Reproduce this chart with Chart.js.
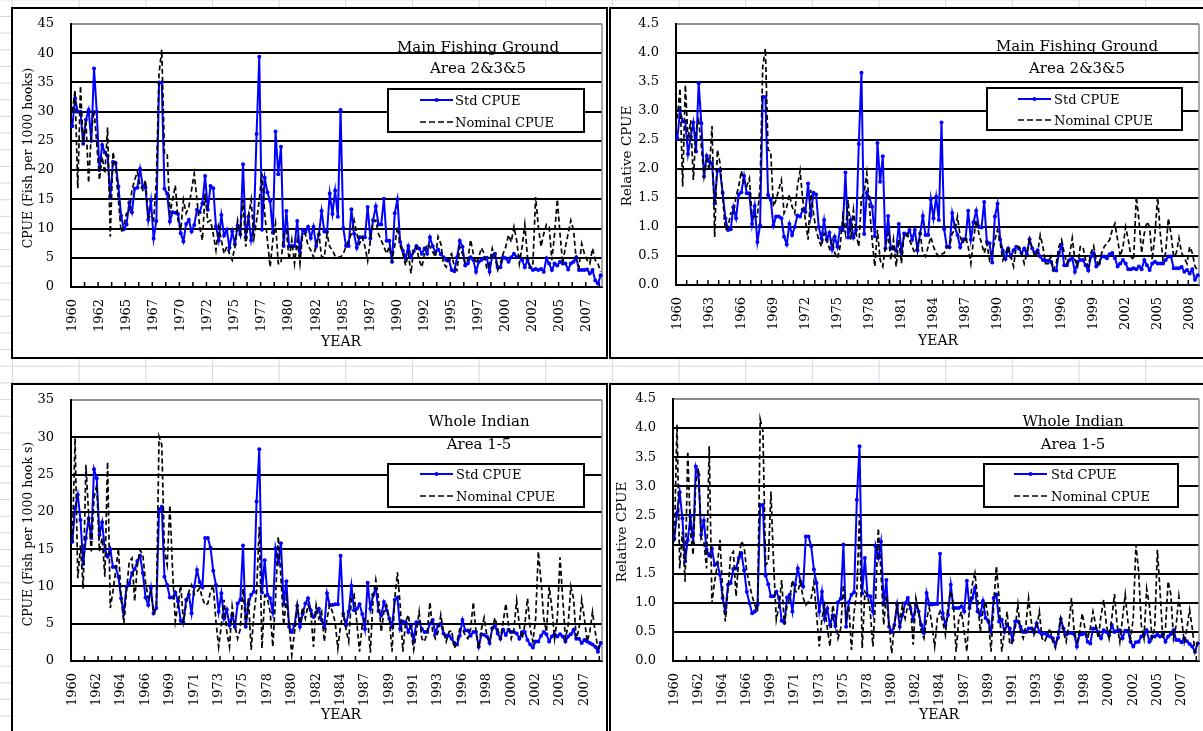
<!DOCTYPE html>
<html>
<head>
<meta charset="utf-8">
<script src="https://cdn.jsdelivr.net/npm/chart.js@4"></script>
<style>
  body {
    margin: 0; width: 1203px; height: 731px; overflow: hidden; position: relative;
    background-color: #fff;
    background-image: linear-gradient(to right, #d0d7e5 1px, transparent 1px),
                      linear-gradient(to bottom, #d0d7e5 1px, transparent 1px);
    background-size: 66.67px 16.67px;
    background-position: 12px 16px;
    font-family: 'DejaVu Serif', serif;
  }
  .panel { position: absolute; background: #fff; border: 2px solid #000; box-sizing: border-box; }
  .panel canvas { position: absolute; left: 0; top: 0; }
  .txt { position: absolute; white-space: nowrap; line-height: 1; color: #000; transform: translate(-50%, -50%); }
  .ytitle { position: absolute; white-space: nowrap; line-height: 1; font-size: 12.5px; transform: translate(-50%, -50%) rotate(-90deg); }
  .legend { position: absolute; background: #fff; border: 2px solid #000; box-sizing: border-box; }
  .ltext { position: absolute; white-space: nowrap; line-height: 1; font-size: 13px; transform: translateY(-50%); }
  .lsample { position: absolute; transform: translateY(-50%); line-height: 0; }
  .lsample svg { display: block; }
</style>
</head>
<body>

<div class="panel" style="left:11px;top:7px;width:597px;height:352px;"><canvas id="mainCpue" width="593" height="348"></canvas></div>
<div class="panel" style="left:609px;top:7px;width:600px;height:352px;"><canvas id="mainRel" width="592" height="348"></canvas></div>
<div class="panel" style="left:11px;top:383px;width:597px;height:360px;"><canvas id="wholeCpue" width="593" height="346"></canvas></div>
<div class="panel" style="left:609px;top:383px;width:600px;height:360px;"><canvas id="wholeRel" width="592" height="346"></canvas></div>

<script>
const firstYear = 1960;
const lastYear = 2008;

// tick labels shown along each x axis
const ticksMainCpue = ['1960','1962','1965','1967','1970','1972','1975','1977','1980','1982',
    '1985','1987','1990','1992','1995','1997','2000','2002','2005','2007'];
const ticksMainRel = ['1960','1963','1966','1969','1972','1975','1978','1981','1984','1987',
    '1990','1993','1996','1999','2002','2005','2008'];
const ticksWhole = ['1960','1962','1964','1966','1969','1971','1973','1975','1978','1980','1982',
    '1984','1987','1989','1991','1993','1996','1998','2000','2002','2005','2007'];

// Main fishing ground, Area 2&3&5 : CPUE (fish per 1000 hooks), quarterly 1960-2008
const stdMainCpue = [
    27.5, 32.3, 30.0, 30.0, 24.5, 28.6, 30.3, 25.0, 37.4, 30.0, 20.0, 24.3, 23.0, 22.5, 15.2, 21.4,
    21.2, 17.2, 12.2, 9.9, 10.7, 14.4, 12.8, 16.8, 17.0, 20.2, 17.2, 17.0, 11.5, 14.8, 8.3, 11.3,
    35.0, 35.0, 16.8, 16.0, 11.2, 12.8, 12.7, 12.5, 9.2, 7.8, 10.8, 11.5, 9.5, 10.6, 13.2, 12.8,
    14.3, 19.0, 13.2, 17.3, 16.9, 10.4, 8.0, 12.3, 8.8, 9.8, 6.7, 9.5, 7.3, 10.5, 9.0, 21.0,
    8.5, 12.0, 8.0, 10.5, 26.2, 39.4, 9.8, 18.7, 16.2, 14.7, 9.3, 26.6, 19.3, 24.0, 7.0, 13.0,
    7.0, 7.0, 7.0, 11.3, 6.0, 9.8, 9.4, 10.3, 8.4, 10.3, 7.0, 9.0, 13.0, 9.5, 9.4, 16.0,
    12.5, 16.5, 12.0, 30.3, 10.1, 7.0, 7.0, 13.3, 9.1, 6.7, 8.5, 8.5, 8.5, 13.7, 8.3, 11.4,
    13.8, 10.7, 10.7, 15.1, 7.9, 7.9, 4.3, 12.6, 15.0, 7.7, 6.2, 4.9, 7.0, 5.1, 6.1, 7.0,
    6.6, 5.7, 6.6, 5.7, 8.5, 7.0, 6.0, 6.4, 5.6, 5.1, 4.6, 4.6, 2.9, 2.7, 5.1, 7.9,
    6.9, 3.7, 4.0, 5.1, 4.6, 2.6, 4.3, 4.6, 4.9, 5.0, 2.6, 5.4, 5.7, 3.4, 3.4, 5.1,
    4.9, 4.3, 5.1, 5.7, 5.1, 5.1, 4.6, 3.4, 4.6, 3.4, 2.9, 3.1, 2.9, 3.1, 2.6, 4.9,
    4.0, 2.9, 4.0, 3.7, 4.3, 4.0, 4.0, 3.0, 4.0, 4.3, 5.1, 2.9, 2.9, 2.9, 3.0, 2.3,
    2.9, 1.1, 0.6, 2.0
];
const nomMainCpue = [
    30.0, 33.7, 16.9, 34.4, 24.6, 28.6, 17.8, 26.3, 30.3, 24.6, 18.3, 22.3, 19.4, 27.3, 8.6, 23.1,
    20.6, 14.9, 9.4, 10.3, 12.6, 12.6, 16.6, 18.3, 19.7, 17.4, 16.6, 18.3, 12.0, 12.0, 11.4, 18.3,
    36.6, 40.6, 22.9, 22.9, 12.6, 14.9, 17.4, 11.4, 9.7, 14.9, 12.6, 13.7, 16.6, 19.4, 14.9, 10.3,
    8.0, 16.0, 11.1, 11.4, 9.1, 6.3, 10.3, 8.0, 5.7, 6.9, 5.7, 4.6, 6.9, 11.4, 9.1, 14.9,
    6.9, 12.0, 14.9, 8.3, 11.4, 14.9, 19.4, 12.6, 8.0, 3.4, 8.0, 10.9, 4.0, 4.0, 9.1, 9.7,
    4.6, 8.0, 4.0, 8.0, 4.0, 9.1, 9.1, 7.1, 6.3, 5.1, 7.4, 9.1, 5.1, 5.1, 9.1, 6.9,
    6.3, 5.3, 5.1, 5.1, 5.7, 6.9, 8.0, 9.1, 11.4, 9.1, 7.4, 8.5, 6.9, 4.5, 8.0, 11.1,
    11.4, 9.1, 8.0, 6.9, 5.7, 6.9, 4.6, 7.1, 10.3, 7.1, 5.7, 3.7, 5.7, 2.3, 6.6, 6.9,
    4.6, 3.4, 5.7, 7.4, 6.9, 6.0, 5.1, 8.6, 7.4, 4.0, 3.4, 5.1, 5.7, 3.4, 2.9, 6.9,
    5.7, 4.0, 4.6, 8.1, 5.7, 4.0, 5.1, 6.7, 5.7, 3.1, 4.0, 6.6, 5.1, 2.9, 4.0, 5.7,
    6.9, 8.9, 7.7, 10.3, 8.0, 4.0, 6.9, 10.7, 5.1, 3.4, 4.0, 15.4, 10.3, 6.9, 9.1, 10.7,
    10.3, 4.6, 9.1, 15.0, 9.1, 4.0, 6.9, 9.1, 11.4, 9.7, 4.6, 3.4, 7.4, 5.7, 4.6, 4.0,
    6.6, 4.6, 4.0, 2.6
];

// Main fishing ground, relative CPUE
const stdMainRel = [
    2.53, 3.0, 2.82, 2.82, 2.26, 2.56, 2.8, 2.3, 3.48, 2.79, 1.87, 2.23, 2.13, 2.1, 1.41, 1.98,
    1.97, 1.59, 1.15, 0.95, 0.96, 1.34, 1.15, 1.56, 1.6, 1.88, 1.58, 1.58, 1.05, 1.36, 0.74, 1.03,
    3.24, 3.24, 1.55, 1.47, 1.02, 1.18, 1.18, 1.15, 0.83, 0.7, 1.05, 0.86, 1.0, 1.2, 1.18, 1.3,
    1.26, 1.75, 1.2, 1.59, 1.56, 1.0, 0.8, 1.12, 0.78, 0.9, 0.61, 0.83, 0.66, 0.98, 0.95, 1.94,
    0.82, 1.12, 0.82, 0.95, 2.43, 3.66, 0.88, 1.59, 1.5, 1.35, 0.84, 2.45, 1.78, 2.22, 0.63, 1.19,
    0.63, 0.63, 0.59, 1.05, 0.55, 0.89, 0.86, 0.95, 0.78, 0.95, 0.6, 0.89, 1.19, 0.86, 0.86, 1.48,
    1.15, 1.52, 1.12, 2.8, 0.96, 0.66, 0.65, 1.24, 1.0, 0.86, 0.65, 0.79, 0.79, 1.28, 0.78, 1.08,
    1.28, 1.0, 0.99, 1.43, 0.74, 0.72, 0.39, 1.18, 1.4, 0.78, 0.59, 0.45, 0.63, 0.49, 0.6, 0.66,
    0.63, 0.55, 0.63, 0.53, 0.79, 0.63, 0.55, 0.6, 0.49, 0.43, 0.42, 0.42, 0.4, 0.26, 0.25, 0.55,
    0.69, 0.34, 0.34, 0.43, 0.46, 0.23, 0.4, 0.43, 0.43, 0.34, 0.25, 0.49, 0.55, 0.32, 0.37, 0.49,
    0.49, 0.46, 0.53, 0.55, 0.46, 0.32, 0.37, 0.43, 0.37, 0.27, 0.27, 0.29, 0.27, 0.32, 0.27, 0.43,
    0.34, 0.26, 0.37, 0.4, 0.37, 0.37, 0.37, 0.43, 0.49, 0.49, 0.29, 0.29, 0.29, 0.31, 0.23, 0.26,
    0.2, 0.27, 0.09, 0.17
];
const nomMainRel = [
    2.87, 3.39, 1.7, 3.45, 2.5, 2.84, 1.81, 2.67, 2.84, 2.39, 1.87, 2.16, 1.98, 2.74, 0.83, 2.33,
    2.1, 1.52, 0.95, 1.0, 1.24, 1.24, 1.52, 1.7, 1.97, 1.75, 1.7, 1.84, 1.18, 1.18, 1.18, 1.7,
    3.76, 4.08, 2.33, 2.3, 1.35, 1.47, 1.64, 1.81, 1.24, 1.35, 1.56, 1.35, 1.24, 1.7, 1.97, 1.47,
    1.12, 0.78, 1.64, 1.24, 0.95, 0.78, 0.66, 0.89, 0.78, 0.63, 0.78, 0.55, 0.46, 0.66, 1.18, 0.89,
    1.47, 0.78, 1.29, 0.89, 0.66, 1.5, 1.59, 1.93, 1.35, 0.78, 0.32, 0.95, 0.43, 0.32, 0.66, 0.89,
    0.43, 0.78, 0.32, 0.78, 0.37, 0.89, 0.89, 0.78, 0.66, 0.55, 0.66, 0.89, 0.55, 0.49, 0.66, 0.83,
    0.66, 0.55, 0.49, 0.53, 0.55, 0.66, 0.66, 0.89, 0.95, 1.18, 0.83, 0.72, 0.83, 0.66, 0.37, 0.78,
    1.12, 0.89, 0.72, 0.55, 0.72, 0.43, 0.55, 0.78, 0.95, 0.72, 0.43, 0.55, 0.66, 0.49, 0.32, 0.66,
    0.66, 0.55, 0.37, 0.55, 0.78, 0.63, 0.49, 0.55, 0.86, 0.66, 0.37, 0.37, 0.49, 0.26, 0.37, 0.66,
    0.78, 0.55, 0.37, 0.52, 0.81, 0.43, 0.32, 0.66, 0.66, 0.43, 0.32, 0.55, 0.67, 0.43, 0.32, 0.55,
    0.66, 0.72, 0.78, 0.95, 1.06, 0.78, 0.49, 0.66, 1.0, 0.78, 0.49, 0.43, 1.53, 1.12, 0.55, 0.89,
    1.09, 1.0, 0.43, 0.89, 1.52, 0.89, 0.43, 0.55, 1.15, 0.89, 0.49, 0.55, 0.81, 0.55, 0.46, 0.37,
    0.66, 0.55, 0.32, 0.26
];

// Whole Indian, Area 1-5 : CPUE (fish per 1000 hooks)
const stdWholeCpue = [
    16.0, 20.5, 22.3, 18.9, 13.0, 16.5, 19.1, 16.5, 25.7, 24.5, 16.9, 18.6, 14.9, 14.0, 15.0, 12.6,
    12.6, 11.3, 8.4, 6.5, 10.0, 10.4, 11.8, 12.3, 13.4, 14.1, 11.8, 8.5, 7.5, 9.8, 6.4, 7.1,
    20.3, 20.7, 11.3, 10.2, 8.5, 8.5, 9.2, 8.0, 5.4, 5.1, 8.2, 8.9, 6.4, 10.0, 12.2, 10.6,
    9.9, 16.5, 16.5, 15.2, 12.1, 10.2, 6.6, 9.1, 5.7, 6.9, 4.8, 6.2, 4.6, 7.7, 8.2, 15.5,
    4.6, 7.6, 8.9, 9.3, 21.4, 28.4, 9.2, 13.5, 8.9, 8.4, 6.5, 15.1, 13.3, 15.8, 7.6, 10.7,
    4.6, 3.9, 4.8, 7.4, 4.6, 6.3, 7.7, 8.4, 6.8, 5.9, 6.5, 7.0, 5.5, 4.6, 9.1, 7.5,
    7.5, 7.6, 7.6, 14.1, 6.3, 4.8, 6.6, 10.1, 6.8, 7.0, 7.6, 6.3, 4.3, 10.5, 7.0, 8.9,
    9.7, 6.7, 6.1, 7.9, 6.8, 5.7, 4.6, 8.2, 8.5, 4.3, 5.3, 5.2, 3.9, 4.8, 2.8, 5.2,
    5.2, 4.3, 3.9, 3.9, 5.0, 5.5, 3.7, 4.8, 5.0, 3.7, 3.4, 3.4, 3.0, 2.4, 2.2, 3.4,
    5.5, 4.1, 4.1, 3.4, 3.9, 3.9, 1.9, 3.6, 3.5, 3.3, 2.4, 4.4, 4.7, 3.7, 3.0, 4.2,
    3.5, 4.2, 3.9, 3.9, 3.7, 3.0, 3.9, 3.9, 2.8, 2.2, 1.8, 2.6, 2.6, 3.4, 3.9, 3.6,
    2.6, 3.3, 3.6, 3.3, 3.6, 3.3, 2.6, 3.3, 3.6, 4.2, 3.0, 3.0, 2.4, 2.8, 2.6, 2.4,
    2.2, 1.9, 1.25, 2.4
];
const nomWholeCpue = [
    16.0, 29.9, 11.1, 15.5, 9.7, 26.3, 19.7, 14.7, 21.9, 23.6, 14.7, 16.5, 11.3, 26.7, 7.1, 9.4,
    12.1, 15.1, 8.4, 5.1, 9.4, 13.3, 13.8, 8.0, 12.9, 14.9, 14.3, 10.6, 8.4, 9.3, 6.4, 7.1,
    30.1, 29.0, 14.7, 12.9, 20.9, 12.1, 5.3, 7.6, 10.2, 5.3, 7.6, 9.3, 10.2, 8.9, 9.3, 9.8,
    8.4, 7.5, 7.7, 9.3, 10.2, 5.3, 1.9, 4.8, 8.2, 3.9, 1.9, 7.3, 4.8, 3.0, 4.3, 9.7,
    4.8, 8.4, 1.5, 6.2, 9.3, 18.0, 1.7, 8.8, 8.4, 6.6, 1.9, 8.4, 16.7, 11.1, 4.8, 8.4,
    4.8, 0.8, 3.9, 7.4, 5.0, 7.2, 5.7, 7.5, 6.6, 1.9, 7.5, 5.7, 6.6, 2.6, 5.7, 7.5,
    6.6, 5.2, 1.7, 4.8, 6.4, 4.3, 2.6, 8.4, 8.9, 5.2, 1.25, 4.8, 5.7, 5.7, 1.1, 8.4,
    10.9, 8.4, 3.9, 6.6, 7.5, 5.7, 1.25, 8.4, 11.9, 7.5, 1.25, 5.2, 6.2, 3.9, 1.5, 3.9,
    6.6, 3.0, 2.6, 3.9, 7.9, 3.9, 3.0, 3.9, 6.2, 3.9, 2.6, 3.9, 4.1, 1.7, 2.6, 4.3,
    4.3, 3.4, 3.0, 4.3, 7.9, 3.9, 1.7, 4.3, 5.8, 3.4, 2.6, 4.3, 5.8, 4.3, 3.0, 5.2,
    7.7, 4.8, 3.0, 4.3, 8.1, 4.8, 3.0, 4.8, 8.4, 4.3, 2.6, 5.7, 14.7, 10.7, 5.7, 3.9,
    10.0, 7.1, 3.0, 5.7, 13.9, 8.4, 3.0, 4.8, 10.0, 8.4, 3.0, 4.3, 8.2, 5.7, 2.6, 3.9,
    6.6, 3.9, 1.7, 2.6
];

// Whole Indian, relative CPUE
const stdWholeRel = [
    2.1, 2.54, 2.9, 2.45, 1.71, 2.08, 2.48, 2.02, 3.34, 3.2, 2.17, 2.41, 1.91, 1.81, 1.93, 1.65,
    1.68, 1.48, 1.08, 0.84, 1.31, 1.34, 1.58, 1.59, 1.77, 1.85, 1.56, 1.19, 0.99, 0.82, 0.85, 0.96,
    2.68, 2.68, 1.47, 1.32, 1.11, 1.11, 1.19, 1.08, 0.69, 0.66, 1.09, 1.14, 0.85, 1.31, 1.59, 1.36,
    1.28, 2.14, 2.14, 1.97, 1.57, 1.34, 0.85, 1.19, 0.72, 0.9, 0.62, 0.78, 0.6, 1.01, 1.07, 2.0,
    0.59, 1.01, 1.14, 1.18, 2.77, 3.69, 1.16, 1.77, 1.12, 1.11, 0.85, 1.97, 1.77, 2.05, 0.97, 1.39,
    0.59, 0.5, 0.62, 0.96, 0.59, 0.79, 0.99, 1.08, 0.9, 0.71, 0.97, 0.85, 0.62, 0.48, 1.17, 0.97,
    0.97, 0.98, 0.98, 1.84, 0.82, 0.62, 0.79, 1.31, 0.91, 0.91, 0.91, 0.94, 0.85, 1.38, 0.91, 1.08,
    1.26, 0.85, 0.79, 1.03, 0.74, 0.68, 0.5, 1.08, 1.14, 0.68, 0.71, 0.5, 0.62, 0.56, 0.36, 0.68,
    0.68, 0.59, 0.5, 0.5, 0.56, 0.56, 0.5, 0.65, 0.5, 0.46, 0.48, 0.44, 0.42, 0.39, 0.29, 0.4,
    0.72, 0.56, 0.45, 0.48, 0.48, 0.46, 0.25, 0.45, 0.46, 0.48, 0.33, 0.3, 0.56, 0.56, 0.5, 0.39,
    0.53, 0.5, 0.44, 0.62, 0.5, 0.52, 0.53, 0.39, 0.52, 0.52, 0.33, 0.25, 0.32, 0.33, 0.42, 0.45,
    0.53, 0.33, 0.42, 0.42, 0.45, 0.42, 0.46, 0.33, 0.42, 0.46, 0.53, 0.36, 0.36, 0.32, 0.39, 0.34,
    0.29, 0.25, 0.16, 0.3
];
const nomWholeRel = [
    2.05, 4.06, 1.59, 2.22, 1.36, 3.6, 2.22, 1.82, 3.08, 3.31, 2.11, 2.05, 1.59, 3.69, 0.99, 1.36,
    1.65, 2.08, 1.19, 0.68, 1.24, 1.82, 1.88, 1.11, 1.76, 2.06, 1.97, 1.53, 1.31, 1.11, 0.96, 0.85,
    4.15, 3.95, 1.65, 1.7, 2.91, 1.65, 0.71, 0.96, 1.39, 0.62, 0.96, 1.08, 1.39, 1.19, 1.19, 1.36,
    1.08, 0.96, 1.02, 1.08, 1.36, 0.79, 0.25, 0.73, 0.96, 0.56, 0.25, 0.96, 0.73, 0.39, 0.56, 1.31,
    0.73, 0.96, 0.19, 0.85, 1.19, 2.51, 0.22, 1.19, 1.13, 0.85, 0.25, 1.08, 2.28, 1.53, 0.62, 1.13,
    0.62, 0.13, 0.62, 0.96, 0.65, 0.96, 0.73, 0.96, 0.96, 0.28, 1.08, 0.85, 0.51, 0.39, 0.73, 0.91,
    0.62, 0.25, 0.73, 0.85, 0.68, 0.45, 0.96, 1.2, 0.96, 0.16, 0.73, 0.85, 0.5, 0.16, 0.96, 1.31,
    1.51, 1.08, 0.5, 0.85, 1.02, 0.73, 0.16, 0.96, 1.63, 1.08, 0.16, 0.5, 0.85, 0.28, 0.33, 0.56,
    0.97, 0.5, 0.39, 0.62, 1.08, 0.68, 0.45, 0.56, 0.85, 0.39, 0.33, 0.45, 0.56, 0.33, 0.22, 0.5,
    0.73, 0.5, 0.33, 0.62, 1.08, 0.5, 0.33, 0.5, 0.82, 0.56, 0.39, 0.56, 0.85, 0.62, 0.39, 0.79,
    1.05, 0.62, 0.39, 0.73, 1.15, 0.62, 0.33, 0.73, 1.14, 0.68, 0.39, 0.73, 2.0, 1.54, 0.62, 0.39,
    1.24, 0.96, 0.39, 0.56, 1.91, 1.19, 0.39, 0.56, 1.37, 1.14, 0.39, 0.62, 1.11, 0.73, 0.33, 0.56,
    0.88, 0.56, 0.16, 0.33
];

// quarterly categories
const quarters = [];
for (let y = firstYear; y <= lastYear; y++) {
    for (let q = 1; q <= 4; q++) quarters.push(y + ' Q' + q);
}

const serif = 'DejaVu Serif';

// small inside tick marks on the x axis + grey right edge of the plot area
const axisMarks = {
    id: 'axisMarks',
    beforeDatasetsDraw(chart, args, opts) {
        const { ctx, chartArea: a, scales: { x } } = chart;
        ctx.save();
        ctx.strokeStyle = '#8c8c8c';
        ctx.lineWidth = 1.5;
        ctx.beginPath();
        ctx.moveTo(a.right, a.top);
        ctx.lineTo(a.right, a.bottom);
        ctx.stroke();
        ctx.strokeStyle = '#000';
        ctx.lineWidth = 1.5;
        ctx.beginPath();
        for (let k = opts.every; k < quarters.length; k += opts.every) {
            const px = (x.getPixelForValue(k - 1) + x.getPixelForValue(k)) / 2;
            ctx.moveTo(px, a.bottom);
            ctx.lineTo(px, a.bottom - 5);
        }
        ctx.stroke();
        ctx.restore();
    }
};

function drawPanel(id, std, nom, o) {
    const ctx = document.getElementById(id).getContext('2d');
    return new Chart(ctx, {
        type: 'line',
        data: {
            labels: quarters,
            datasets: [{
                label: 'Std CPUE',
                data: std,
                borderColor: '#0000ff',
                backgroundColor: '#0000ff',
                borderWidth: 2,
                pointRadius: 2,
                pointBorderWidth: 0,
                pointBackgroundColor: '#0000ff',
                tension: 0,
                order: 1
            }, {
                label: 'Nominal CPUE',
                data: nom,
                borderColor: '#000',
                borderWidth: 1.7,
                borderDash: [5, 3],
                pointRadius: 0,
                tension: 0,
                order: 0
            }]
        },
        options: {
            responsive: false,
            animation: false,
            events: [],
            layout: { padding: { left: 0, top: o.top, right: o.right, bottom: 0 } },
            plugins: {
                legend: { display: false },
                tooltip: { enabled: false },
                axisMarks: { every: o.markEvery }
            },
            scales: {
                x: {
                    type: 'category',
                    offset: true,
                    grid: { display: false, drawTicks: false },
                    border: { display: true, color: '#000', width: 2 },
                    ticks: {
                        autoSkip: false,
                        minRotation: 90,
                        maxRotation: 90,
                        padding: 12,
                        color: '#000',
                        font: { family: serif, size: 13 },
                        callback: (v, i) => i % o.labelEvery === 0 ? o.tickLabels[i / o.labelEvery] : null
                    },
                    afterFit: s => {
                        s.height = o.xHeight;
                        s.paddingLeft = 0;
                        s.paddingRight = 0;
                    }
                },
                y: {
                    min: 0,
                    max: o.yMax,
                    grid: {
                        color: c => (c.tick && c.tick.value === o.yMax) ? '#8c8c8c' : '#000',
                        lineWidth: 2,
                        drawTicks: false
                    },
                    border: { display: true, color: '#000', width: 2 },
                    ticks: {
                        stepSize: o.yStep,
                        padding: 17,
                        color: '#000',
                        font: { family: serif, size: 13 },
                        callback: v => v.toFixed(o.decimals)
                    },
                    afterFit: s => {
                        s.width = o.yWidth;
                        s.paddingTop = 0;
                        s.paddingBottom = 0;
                    }
                }
            }
        },
        plugins: [axisMarks]
    });
}

drawPanel('mainCpue', stdMainCpue, nomMainCpue, {
    yMax: 45, yStep: 5, decimals: 0, tickLabels: ticksMainCpue, labelEvery: 10, markEvery: 5,
    yWidth: 58, xHeight: 70, top: 15, right: 2
});
drawPanel('mainRel', stdMainRel, nomMainRel, {
    yMax: 4.5, yStep: 0.5, decimals: 1, tickLabels: ticksMainRel, labelEvery: 12, markEvery: 4,
    yWidth: 65, xHeight: 72, top: 15, right: 3
});
drawPanel('wholeCpue', stdWholeCpue, nomWholeCpue, {
    yMax: 35, yStep: 5, decimals: 0, tickLabels: ticksWhole, labelEvery: 9, markEvery: 5,
    yWidth: 58, xHeight: 70, top: 15, right: 2
});
drawPanel('wholeRel', stdWholeRel, nomWholeRel, {
    yMax: 4.5, yStep: 0.5, decimals: 1, tickLabels: ticksWhole, labelEvery: 9, markEvery: 5,
    yWidth: 62, xHeight: 70, top: 14, right: 4
});

// text overlays: titles, axis titles, legends
function addText(cls, text, x, y, size) {
    const d = document.createElement('div');
    d.className = cls;
    d.textContent = text;
    d.style.left = x + 'px';
    d.style.top = y + 'px';
    if (size) d.style.fontSize = size + 'px';
    document.body.appendChild(d);
}

function addLegend(left, top, width, height, sampleX, textX, row1, row2) {
    const box = document.createElement('div');
    box.className = 'legend';
    box.style.cssText = `left:${left}px;top:${top}px;width:${width}px;height:${height}px;`;
    document.body.appendChild(box);
    const rows = [
        { y: row1, text: 'Std CPUE',
          svg: '<svg width="33" height="6"><line x1="0" y1="3" x2="33" y2="3" stroke="#0000ff" stroke-width="2"/><circle cx="16.5" cy="3" r="2" fill="#0000ff"/></svg>' },
        { y: row2, text: 'Nominal CPUE',
          svg: '<svg width="33" height="6"><line x1="0" y1="3" x2="33" y2="3" stroke="#000" stroke-width="1.7" stroke-dasharray="6,3"/></svg>' }
    ];
    rows.forEach(r => {
        const s = document.createElement('div');
        s.className = 'lsample';
        s.style.cssText = `left:${sampleX}px;top:${r.y}px;`;
        s.innerHTML = r.svg;
        document.body.appendChild(s);
        const t = document.createElement('div');
        t.className = 'ltext';
        t.textContent = r.text;
        t.style.left = textX + 'px';
        t.style.top = r.y + 'px';
        document.body.appendChild(t);
    });
}

addText('txt', 'Main Fishing Ground', 478, 47, 15);
addText('txt', 'Area 2&3&5', 478, 68, 15);
addText('txt', 'Main Fishing Ground', 1077, 46, 15);
addText('txt', 'Area 2&3&5', 1077, 68, 15);
addText('txt', 'Whole Indian', 479, 421, 15);
addText('txt', 'Area 1-5', 479, 444, 15);
addText('txt', 'Whole Indian', 1073, 421, 15);
addText('txt', 'Area 1-5', 1073, 444, 15);

addText('ytitle', 'CPUE (Fish per 1000 hooks)', 28, 158);
addText('ytitle', 'Relative CPUE', 627, 156, 13.5);
addText('ytitle', 'CPUE (Fish per 1000 hook s)', 28, 534);
addText('ytitle', 'Relative CPUE', 622, 532, 13.5);

addText('txt', 'YEAR', 341, 341, 14);
addText('txt', 'YEAR', 938, 340, 14);
addText('txt', 'YEAR', 341, 714, 14);
addText('txt', 'YEAR', 939, 714, 14);

addLegend(387, 88, 198, 45, 420, 455, 100, 122);
addLegend(986, 87, 197, 44, 1018, 1054, 98.5, 119.5);
addLegend(387, 463, 198, 45, 420, 456, 474, 496);
addLegend(983, 463, 196, 45, 1014, 1051, 474, 496);
</script>
</body>
</html>
